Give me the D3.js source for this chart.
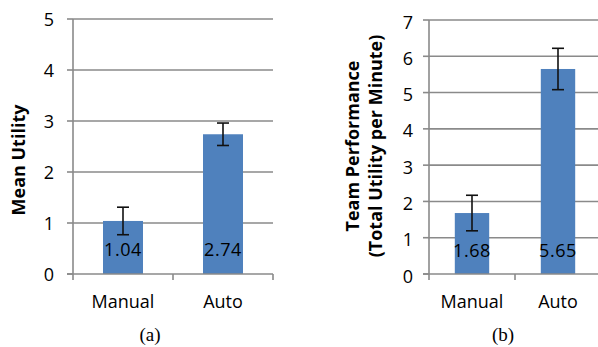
<!DOCTYPE html>
<html>
<head>
<meta charset="utf-8">
<script src="https://cdn.jsdelivr.net/npm/d3@7"></script>
<style>
  html, body { margin: 0; padding: 0; background: #fff; }
  svg { display: block; }
</style>
</head>
<body>
<svg id="chart" width="598" height="347"></svg>
<script>
// === Data ===
const categories = ['Manual', 'Auto'];

const utilityMeans = [1.04, 2.74];
const utilityErrors = [0.27, 0.22];
const utilityTicks = [0, 1, 2, 3, 4, 5];

const perfMeans = [1.68, 5.65];
const perfErrors = [0.49, 0.57];
const perfTicks = [0, 1, 2, 3, 4, 5, 6, 7];

const BAR_COLOR = '#4f81bd';
const GRID_COLOR = '#8a8a8a';
const SANS = '"Open Sans", "Noto Sans", sans-serif';

const svg = d3.select('#chart');

function drawPanel(opts) {
  const g = svg.append('g');
  const top = opts.top, bottom = 274;

  const y = d3.scaleLinear().domain([0, d3.max(opts.ticks)]).range([bottom, top]);
  const x = d3.scaleBand()
    .domain(categories)
    .range([opts.left, opts.right])
    .paddingInner(0.6)
    .paddingOuter(0.3);

  // Gridlines (behind bars)
  g.append('g')
    .selectAll('line')
    .data(opts.ticks.filter(t => t > 0))
    .join('line')
    .attr('x1', opts.left).attr('x2', opts.right)
    .attr('y1', d => y(d)).attr('y2', d => y(d))
    .attr('stroke', GRID_COLOR)
    .attr('stroke-width', 1.6);

  // Left axis line + ticks
  g.append('line')
    .attr('x1', opts.left).attr('x2', opts.left)
    .attr('y1', top).attr('y2', bottom)
    .attr('stroke', GRID_COLOR).attr('stroke-width', 1.6);
  g.append('g')
    .selectAll('line')
    .data(opts.ticks)
    .join('line')
    .attr('x1', opts.left - 6).attr('x2', opts.left)
    .attr('y1', d => y(d)).attr('y2', d => y(d))
    .attr('stroke', GRID_COLOR).attr('stroke-width', 1.6);

  // Tick labels
  g.append('g')
    .selectAll('text')
    .data(opts.ticks)
    .join('text')
    .attr('x', opts.tickLabelX)
    .attr('y', d => y(d) + opts.tickDy)
    .attr('text-anchor', 'end')
    .attr('font-family', SANS)
    .attr('font-size', 18)
    .attr('fill', '#000')
    .text(d => d);

  // Bars
  g.append('g')
    .selectAll('rect')
    .data(opts.means)
    .join('rect')
    .attr('x', (d, i) => x(categories[i]))
    .attr('y', d => y(d))
    .attr('width', x.bandwidth())
    .attr('height', d => y(0) - y(d))
    .attr('fill', BAR_COLOR);

  // Bottom axis with category boundary ticks
  g.append('line')
    .attr('x1', opts.left - 6).attr('x2', opts.right)
    .attr('y1', bottom).attr('y2', bottom)
    .attr('stroke', GRID_COLOR).attr('stroke-width', 1.6);
  const step = x.step();
  const bounds = d3.range(categories.length + 1).map(i => opts.left + i * step);
  g.append('g')
    .selectAll('line')
    .data(bounds)
    .join('line')
    .attr('x1', d => d).attr('x2', d => d)
    .attr('y1', bottom).attr('y2', bottom + 6)
    .attr('stroke', GRID_COLOR).attr('stroke-width', 1.6);

  // Error bars
  const eb = g.append('g').attr('stroke', '#111').attr('stroke-width', 1.6);
  opts.means.forEach((m, i) => {
    const cx = x(categories[i]) + x.bandwidth() / 2;
    const hi = y(m + opts.errors[i]);
    const lo = y(m - opts.errors[i]);
    eb.append('line').attr('x1', cx).attr('x2', cx).attr('y1', hi).attr('y2', lo);
    eb.append('line').attr('x1', cx - 6).attr('x2', cx + 6).attr('y1', hi).attr('y2', hi);
    eb.append('line').attr('x1', cx - 6).attr('x2', cx + 6).attr('y1', lo).attr('y2', lo);
  });

  // Value labels inside base
  g.append('g')
    .selectAll('text')
    .data(opts.means)
    .join('text')
    .attr('x', (d, i) => x(categories[i]) + x.bandwidth() / 2)
    .attr('y', bottom - opts.valueLift)
    .attr('text-anchor', 'middle')
    .attr('font-family', SANS)
    .attr('font-size', 18)
    .attr('letter-spacing', 0.6)
    .attr('fill', '#000')
    .text(d => d.toFixed(2));

  // Category labels
  g.append('g')
    .selectAll('text')
    .data(categories)
    .join('text')
    .attr('x', d => x(d) + x.bandwidth() / 2)
    .attr('y', 308)
    .attr('text-anchor', 'middle')
    .attr('font-family', SANS)
    .attr('font-size', 18)
    .attr('fill', '#000')
    .text(d => d);

  // Axis title (rotated)
  opts.title.forEach((line, i) => {
    g.append('text')
      .attr('transform', `translate(${opts.titleX[i]},${opts.titleY}) rotate(-90)`)
      .attr('text-anchor', 'middle')
      .attr('font-family', SANS)
      .attr('font-size', 18)
      .attr('font-weight', 700)
      .attr('fill', '#000')
      .text(line);
  });

  // Panel caption
  g.append('text')
    .attr('x', opts.captionX)
    .attr('y', 341)
    .attr('text-anchor', 'middle')
    .attr('font-family', '"Liberation Serif", "DejaVu Serif", serif')
    .attr('font-size', 19)
    .attr('fill', '#000')
    .text(opts.caption);
}

drawPanel({
  means: utilityMeans, errors: utilityErrors, ticks: utilityTicks,
  top: 19, left: 73, right: 273, tickLabelX: 54, tickDy: 6.5, valueLift: 18,
  title: ['Mean Utility'], titleX: [25], titleY: 160,
  caption: '(a)', captionX: 150
});

drawPanel({
  means: perfMeans, errors: perfErrors, ticks: perfTicks,
  top: 20, left: 429, right: 601, tickLabelX: 413, tickDy: 8.5, valueLift: 17,
  title: ['Team Performance', '(Total Utility per Minute)'], titleX: [359, 382], titleY: 146,
  caption: '(b)', captionX: 503
});
</script>
</body>
</html>
